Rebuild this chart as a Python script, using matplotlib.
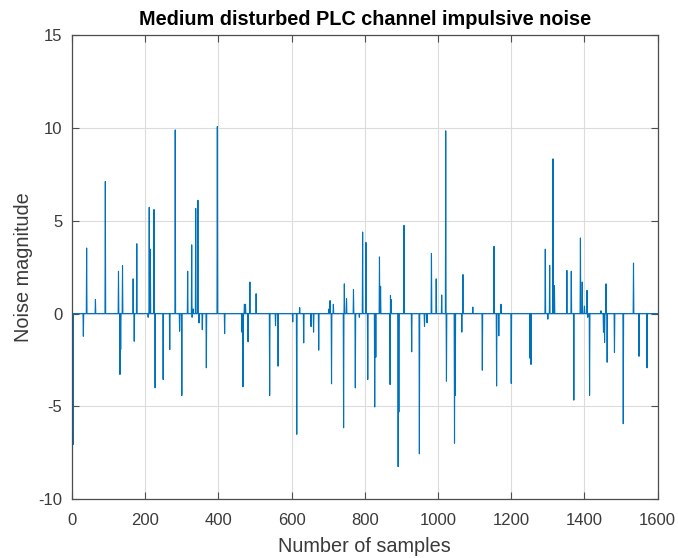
import numpy as np
import matplotlib
matplotlib.use("Agg")
import matplotlib.pyplot as plt

n_samples = 1600
spike_idx = [3, 31, 40, 64, 91, 127, 131, 133, 138, 167, 170, 177, 208, 211, 214, 224, 227,
             249, 267, 282, 294, 300, 316, 327, 328, 331, 338, 344, 347, 356, 367, 397,
             417, 464, 467, 471, 474, 481, 486, 503, 540, 556, 563, 603, 614, 622, 633,
             653, 660, 674, 702, 705, 709, 714, 742, 744, 750, 769, 774, 785, 794, 803,
             808, 827, 830, 840, 843, 869, 870, 872, 891, 893, 907, 928, 949, 963, 970,
             982, 995, 1010, 1021, 1023, 1045, 1047, 1065, 1068, 1095, 1121, 1153, 1160,
             1166, 1172, 1200, 1251, 1254, 1293, 1300, 1305, 1314, 1318, 1352, 1364, 1371,
             1389, 1394, 1400, 1407, 1409, 1414, 1445, 1452, 1455, 1459, 1462, 1482, 1506,
             1534, 1549, 1571]
spike_val = [-7.05, -1.22, 3.53, 0.75, 7.11, 2.28, -3.28, -1.94, 2.58, 1.87, -1.49, 3.76, -0.2,
             5.72, 3.47, 5.6, -4.0, -3.55, -1.94, 9.89, -0.95, -4.41, 2.28, 3.7, -0.2, 0.25,
             5.66, 6.1, -0.5, -0.87, -2.92, 10.07,
             -1.08, -1.0, -3.94, 0.5, 0.5, -1.52, 1.7, 1.07, -4.41, -0.65, -2.83, -0.45, -6.5,
             0.32, -1.58, -0.7, -1.0, -1.97, 0.25, 0.7, -3.78, 0.5, -6.15, 1.6, 0.8, 1.3, -4.0,
             -0.2, 4.39, 3.83,
             -3.55, -5.03, -2.35, 3.05, 1.47, -3.82, 0.98, 0.75, -8.24, -5.3, 4.75, -2.06,
             -7.55, -0.7, -0.5, 3.23, 1.87, 1.0, 9.84, -3.64, -6.98, -4.4, -1.0, 2.1, 0.35,
             -3.05, 3.62, -3.9, -1.2, 0.5, -3.76,
             -2.4, -2.74, 3.47, -0.3, 2.6, 8.33, 1.5, 2.32, 2.28, -4.66, 4.07, 1.7, 0.4, 1.25,
             -0.2, -4.4, 0.15, -1.0, -1.55, 1.6, -2.62, -2.1, -5.93, 2.72, -2.3, -2.92]

x_ticks = [0, 200, 400, 600, 800, 1000, 1200, 1400, 1600]
y_ticks = [-10, -5, 0, 5, 10, 15]

noise = np.zeros(n_samples)
noise[np.array(spike_idx) - 1] = spike_val
samples = np.arange(1, n_samples + 1)

plt.rcParams['font.family'] = ['Liberation Sans', 'DejaVu Sans']
plt.rcParams['axes.unicode_minus'] = False

fig = plt.figure(figsize=(6.78, 5.58), dpi=100)
ax = fig.add_axes([0.1062, 0.1052, 0.8638, 0.8321])
ax.plot(samples, noise, color='#0072BD', linewidth=0.8)
ax.set_xlim(0, 1600)
ax.set_ylim(-10, 15)
ax.set_xticks(x_ticks)
ax.set_yticks(y_ticks)
ax.grid(True, color='#dcdcdc', linewidth=0.8)
ax.set_axisbelow(True)
for s in ax.spines.values():
    s.set_color('#4d4d4d')
    s.set_linewidth(0.9)
ax.tick_params(direction='in', top=True, right=True, length=5, width=0.8,
               color='#4d4d4d', labelcolor='#3a3a3a', labelsize=12)
ax.tick_params(axis='x', pad=10)
ax.tick_params(axis='y', pad=7)
ax.set_title('Medium disturbed PLC channel impulsive noise', fontsize=14.3,
             fontweight='bold', pad=7)
ax.set_xlabel('Number of samples', fontsize=14.3, color='#3a3a3a', labelpad=6)
ax.set_ylabel('Noise magnitude', fontsize=14.3, color='#3a3a3a', labelpad=4)
fig.savefig('out.png', dpi=100)
